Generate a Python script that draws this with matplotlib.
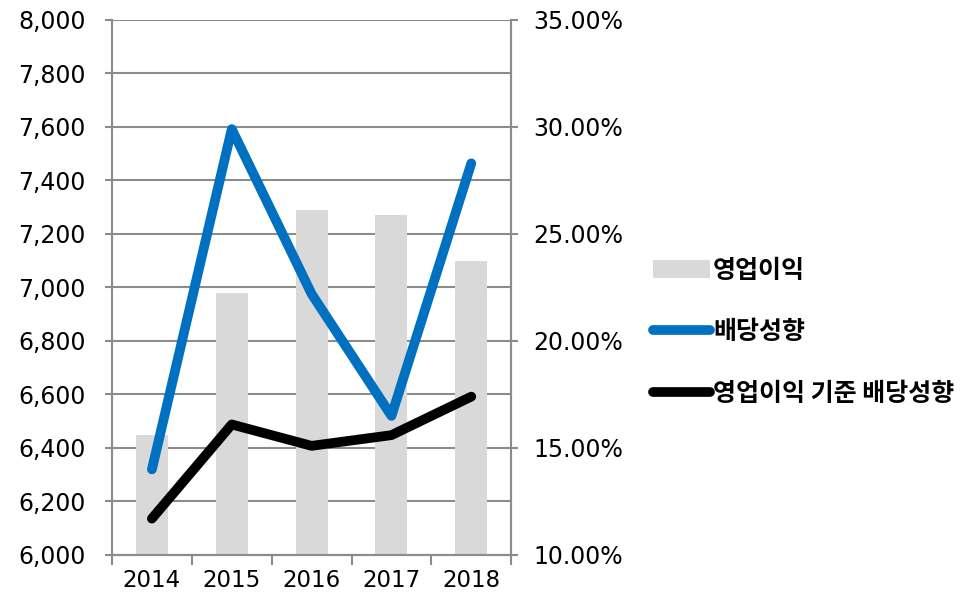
import matplotlib.pyplot as plt
from matplotlib.ticker import FuncFormatter, FixedLocator

plt.rcParams['font.family'] = ['DejaVu Sans', 'Noto Sans CJK KR']

years = ['2014', '2015', '2016', '2017', '2018']
op_profit = [6450, 6980, 7290, 7270, 7100]
payout = [14.0, 29.9, 22.2, 16.5, 28.3]
payout_op = [11.7, 16.1, 15.1, 15.6, 17.4]

grid_c = '#8c8c8c'

fig = plt.figure(figsize=(9.62, 5.93), dpi=100)
ax = fig.add_axes([0.1164, 0.0641, 0.415, 0.9022])
ax2 = ax.twinx()

x = range(len(years))
bars = ax.bar(x, [v - 6000 for v in op_profit], bottom=6000, width=0.4,
              color='#d9d9d9', zorder=2, label='영업이익')
ax.set_ylim(6000, 8000)
ax.set_yticks(range(6000, 8001, 200))
ax.yaxis.set_major_formatter(FuncFormatter(lambda v, p: f'{int(v):,}'))
ax.grid(axis='y', color=grid_c, linewidth=1.5, zorder=0)
ax.set_axisbelow(True)
ax.set_xlim(-0.5, 4.5)
ax.set_xticks(list(x))
ax.set_xticklabels(years)
ax.xaxis.set_minor_locator(FixedLocator([i - 0.5 for i in range(6)]))
ax.tick_params(axis='x', which='major', length=0, pad=10, labelsize=16.5)
ax.tick_params(axis='x', which='minor', length=7, width=1.5, color=grid_c)
ax.tick_params(axis='y', length=5, width=1.5, color=grid_c, labelsize=17, pad=14)

l1, = ax2.plot(x, payout, color='#0070c0', linewidth=7, solid_capstyle='round',
               solid_joinstyle='round', label='배당성향', zorder=3)
l2, = ax2.plot(x, payout_op, color='#000000', linewidth=7, solid_capstyle='round',
               solid_joinstyle='round', label='영업이익 기준 배당성향', zorder=3)
ax2.set_ylim(10, 35)
ax2.set_yticks(range(10, 36, 5))
ax2.yaxis.set_major_formatter(FuncFormatter(lambda v, p: f'{v:.2f}%'))
ax2.tick_params(axis='y', length=5, width=1.5, color=grid_c, labelsize=17, pad=11)

for a in (ax, ax2):
    a.spines['top'].set_visible(False)
    for s in ('left', 'right', 'bottom'):
        a.spines[s].set_color(grid_c)
        a.spines[s].set_linewidth(1.5)

leg = fig.legend(handles=[bars, l1, l2], loc='center left',
                 bbox_to_anchor=(0.6554, 0.44), frameon=False,
                 prop={'family': ['Noto Sans CJK KR', 'DejaVu Sans'], 'weight': 'bold', 'size': 18},
                 handlelength=2.3, handletextpad=0.1, labelspacing=1.5)

fig.savefig('out.png', dpi=100)
